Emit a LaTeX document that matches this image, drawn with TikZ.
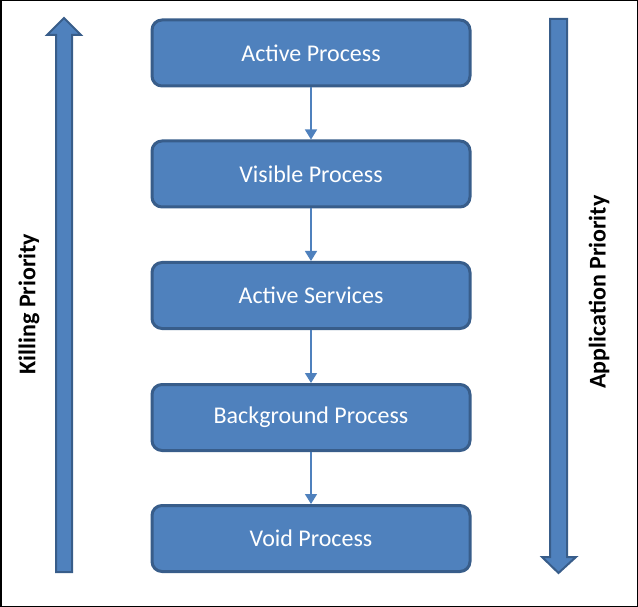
\documentclass[tikz,border=0pt]{standalone}
\usepackage{fontspec}
\setmainfont{Carlito}
\usepackage{tikz}
\usetikzlibrary{arrows.meta,calc}
\definecolor{box_blue}{RGB}{79, 129, 189}
\definecolor{box_edge}{RGB}{56, 93, 138}
\tikzstyle{pn}=[rectangle,rounded corners=10pt,fill=box_blue,draw=box_edge,
  line width=3pt,minimum width=318pt,minimum height=66pt,text=white,
  font=\fontsize{24}{28}\selectfont]
\tikzstyle{lbl}=[font=\bfseries\fontsize{24}{28}\selectfont,text=black]
\tikzstyle{bigarrow}=[fill=box_blue,draw=box_edge,line width=2pt,line join=miter]
\tikzstyle{flow}=[draw=box_blue,line width=1.5pt,-{Triangle[width=12pt,length=10pt]}]
\tikzstyle{none}=[]

\begin{document}
\begin{tikzpicture}[x=1pt, y=-1pt]
            \useasboundingbox (0, 0) rectangle (638, 607);
            \draw [line width=1.5pt] (0.75, 0.75) rectangle (637.25, 606.25);
            \node [style=pn] (0) at (311, 53) {Active Process};
            \node [style=pn] (1) at (311, 174) {Visible Process};
            \node [style=pn] (2) at (311, 295.5) {Active Services};
            \node [style=pn] (3) at (311, 417.5) {Background Process};
            \node [style=pn] (4) at (311, 538.5) {Void Process};
            \draw [style=flow] (0) to (1);
            \draw [style=flow] (1) to (2);
            \draw [style=flow] (2) to (3);
            \draw [style=flow] (3) to (4);
            % side arrows
            \draw [style=bigarrow] (56, 572) -- (56, 35) -- (47, 35) -- (64, 18)
                -- (81, 35) -- (72, 35) -- (72, 572) -- cycle;
            \draw [style=bigarrow] (550, 19) -- (550, 557) -- (542, 557) -- (558.5, 573)
                -- (576, 557) -- (567, 557) -- (567, 19) -- cycle;
            \node [style=lbl, rotate=90] (5) at (29, 304) {Killing Priority};
            \node [style=lbl, rotate=90] (6) at (599, 292) {Application Priority};
    \end{tikzpicture}
\end{document}
